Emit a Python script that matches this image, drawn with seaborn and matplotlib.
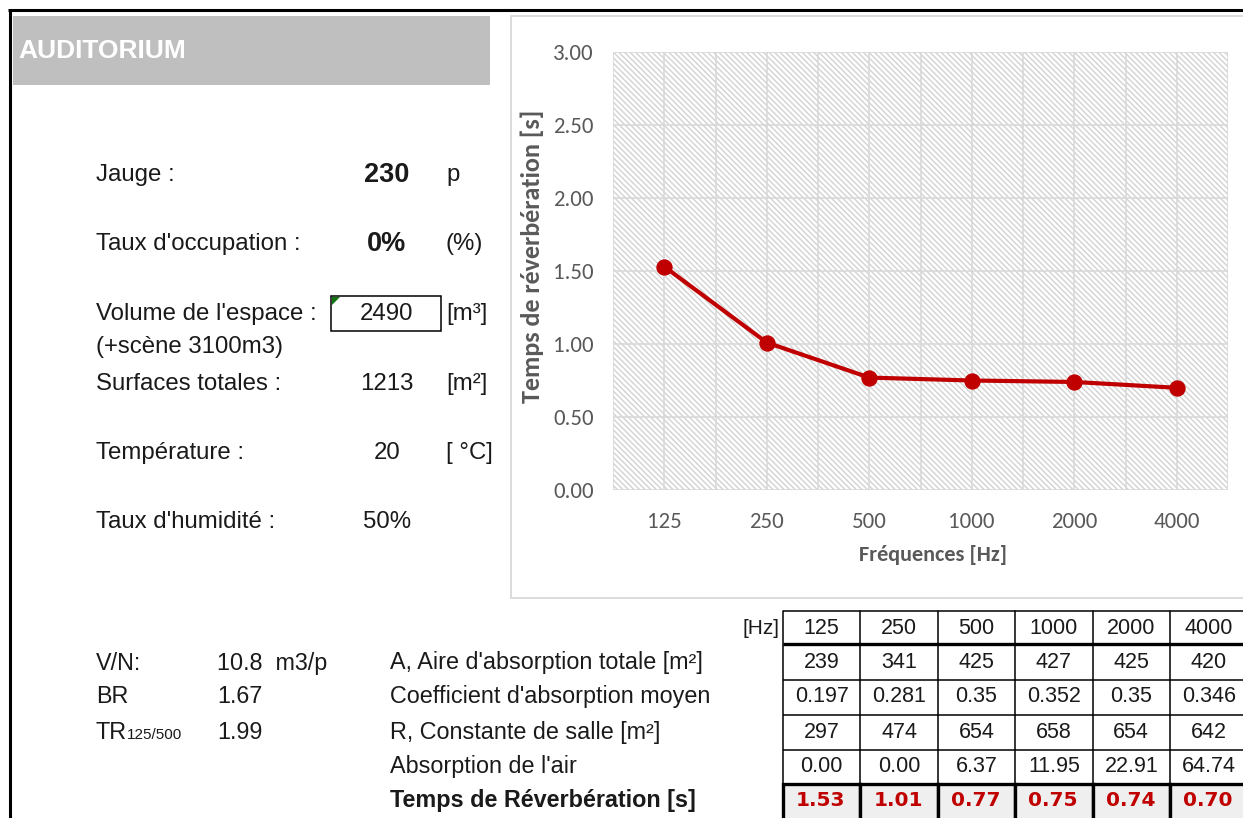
import numpy as np
import matplotlib
matplotlib.use("Agg")
import matplotlib.pyplot as plt
import seaborn as sns
from matplotlib.patches import Rectangle, Polygon
from matplotlib.ticker import MultipleLocator, FormatStrFormatter
from matplotlib import font_manager as fm

# ---------------- data ----------------
freq_labels = ["125", "250", "500", "1000", "2000", "4000"]
reverb_time = [1.53, 1.01, 0.77, 0.75, 0.74, 0.70]
absorption_area = [239, 341, 425, 427, 425, 420]
mean_absorption = [0.197, 0.281, 0.35, 0.352, 0.35, 0.346]
room_constant = [297, 474, 654, 658, 654, 642]
air_absorption = [0.00, 0.00, 6.37, 11.95, 22.91, 64.74]

param_labels = ["Jauge :", "Taux d'occupation :", "Volume de l'espace :",
                "Surfaces totales :", "Température :", "Taux d'humidité :"]
param_values = ["230", "0%", "2490", "1213", "20", "50%"]
param_units = ["p", "(%)", "[m³]", "[m²]", "[ °C]", ""]
param_bold = [True, True, False, False, False, False]
volume_note = "(+scène 3100m3)"

ratio_labels = ["V/N:", "BR", "TR"]
ratio_sub = ["", "", "125/500"]
ratio_values = ["10.8  m3/p", "1.67", "1.99"]

row_labels = ["A, Aire d'absorption totale [m²]", "Coefficient d'absorption moyen",
              "R, Constante de salle [m²]", "Absorption de l'air",
              "Temps de Réverbération [s]"]

# ---------------- fonts ----------------
def has_font(name):
    try:
        fm.findfont(fm.FontProperties(family=name), fallback_to_default=False)
        return True
    except ValueError:
        return False

SHEET = ["Liberation Sans", "DejaVu Sans"]
if has_font("Liberation Sans Narrow"):
    NARROW, NARROW_SIZE = ["Liberation Sans Narrow", "DejaVu Sans"], 19
else:
    NARROW, NARROW_SIZE = SHEET, 16.8
CHART = ["Carlito", "Lato", "DejaVu Sans"] if has_font("Carlito") else ["Lato", "DejaVu Sans"]

sns.set_theme(style="white")
plt.rcParams["font.family"] = CHART
plt.rcParams["hatch.linewidth"] = 1.0

W, H = 1243, 818
fig = plt.figure(figsize=(W / 100, H / 100), dpi=100)
fig.patch.set_facecolor("white")

# sheet layer in pixel coordinates
ov = fig.add_axes([0, 0, 1, 1], zorder=0)
ov.set_xlim(0, W)
ov.set_ylim(H, 0)
ov.axis("off")

TXT = "#1a1a1a"

# outer sheet border
ov.plot([8, W], [10, 10], color="black", lw=2.2, solid_capstyle="butt")
ov.plot([10, 10], [10, H], color="black", lw=2.2, solid_capstyle="butt")

# title banner
ov.add_patch(Rectangle((13, 16), 477, 69, fc="#bfbfbf", ec="none"))
ov.text(18, 51, "AUDITORIUM", color="white", fontsize=19, fontweight="bold",
        va="center", family=SHEET)

# chart frame
ov.add_patch(Rectangle((511, 16), 760, 582, fc="white", ec="#d9d9d9", lw=1.3))

# room parameters
param_y = [175, 244, 314, 384, 453, 522]
for lab, val, unit, bold, y in zip(param_labels, param_values, param_units, param_bold, param_y):
    ov.text(96, y, lab, fontsize=17.3, color=TXT, va="center", family=SHEET)
    ov.text(387, y, val, fontsize=19.5 if bold else 17.3, color=TXT, va="center", ha="center",
            fontweight="bold" if bold else "normal", family=SHEET)
    if unit:
        ov.text(446, y, unit, fontsize=17.3, color=TXT, va="center", family=SHEET)
ov.text(96, 347, volume_note, fontsize=17.3, color=TXT, va="center", family=SHEET)

# input cell around the volume
ov.add_patch(Rectangle((331, 296), 110, 35, fc="none", ec="black", lw=1.1, zorder=3))
ov.add_patch(Polygon([(332, 297), (340, 297), (332, 305)], closed=True,
                     fc="#127312", ec="none", zorder=4))

# ratios
ratio_y = [663, 696, 732]
for lab, sub, val, y in zip(ratio_labels, ratio_sub, ratio_values, ratio_y):
    ov.text(96, y + 7, lab, fontsize=NARROW_SIZE, color=TXT, va="baseline", family=NARROW)
    if sub:
        ov.text(127, y + 7, sub, fontsize=11, color=TXT, va="baseline", family=NARROW)
    ov.text(217, y + 7, val, fontsize=NARROW_SIZE, color=TXT, va="baseline", family=NARROW)

# row labels of the table
row_y = [663, 697, 733, 767, 801]
for i, (lab, y) in enumerate(zip(row_labels, row_y)):
    ov.text(390, y, lab, fontsize=NARROW_SIZE, color=TXT, va="center", family=NARROW,
            fontweight="bold" if i == 4 else "normal")

# ---------------- table ----------------
x0, cw = 783, 77.4
col_edges = [x0 + k * cw for k in range(len(freq_labels) + 1)]
row_edges = [611, 644, 680, 715, 750, 783.5, 820]
centers = [(a + b) / 2 for a, b in zip(col_edges[:-1], col_edges[1:])]

thin, thick = 1.1, 2.4
for xe in col_edges:
    ov.plot([xe, xe], [row_edges[0], row_edges[5]], color="black", lw=thin)
for k, ye in enumerate(row_edges[:5]):
    ov.plot([col_edges[0], col_edges[-1]], [ye, ye], color="black",
            lw=thick if k == 1 else thin, solid_capstyle="butt")

# result row: shaded, boxed cells
for a, b in zip(col_edges[:-1], col_edges[1:]):
    ov.add_patch(Rectangle((a, row_edges[5]), b - a, row_edges[6] - row_edges[5],
                           fc="#efefef", ec="black", lw=thick, zorder=3))

ov.text(780, 629, "[Hz]", fontsize=15, color=TXT, va="center", ha="right", family=SHEET)
table_rows = [
    freq_labels,
    [f"{v:d}" for v in absorption_area],
    [f"{v:g}" for v in mean_absorption],
    [f"{v:d}" for v in room_constant],
    [f"{v:.2f}" for v in air_absorption],
]
text_y = [628, 662, 697, 732, 767]
for cells, y in zip(table_rows, text_y):
    for cx, s in zip(centers, cells):
        ov.text(cx, y, s, fontsize=15.5, color=TXT, va="center", ha="center", family=SHEET)
for cx, v in zip(centers, reverb_time):
    ov.text(cx - 1, 801, f"{v:.2f}", fontsize=14.5, color="#c00000", va="center",
            ha="center", fontweight="bold", family=["DejaVu Sans"], zorder=5)

# ---------------- chart ----------------
ax = fig.add_axes([613 / W, 1 - 490 / H, 615 / W, 438 / H], zorder=1)
ax.set_facecolor("white")
ax.add_patch(Rectangle((0, 0), 1, 1, transform=ax.transAxes, fc="white",
                       ec="#d2d2d2", lw=0, hatch="\\" * 6, zorder=0.1))

sns.pointplot(x=freq_labels, y=reverb_time, color="#c00000", markers="o",
              markersize=9.5, linewidth=3, errorbar=None, ax=ax)

ax.set_xlim(-0.5, len(freq_labels) - 0.5)
ax.set_ylim(0, 3)
ax.set_yticks(np.arange(0, 3.01, 0.5))
ax.yaxis.set_major_formatter(FormatStrFormatter("%.2f"))
ax.xaxis.set_minor_locator(MultipleLocator(0.5))
ax.set_axisbelow(True)
ax.grid(True, axis="y", which="major", color="#d9d9d9", lw=1.2)
ax.grid(True, axis="x", which="both", color="#d9d9d9", lw=1.2)
for s in ax.spines.values():
    s.set_visible(False)
ax.tick_params(which="both", length=0)
ax.tick_params(axis="y", pad=14, labelsize=16.5, labelcolor="#595959")
ax.tick_params(axis="x", pad=16, labelsize=16.5, labelcolor="#595959")

ax.set_xlabel("Fréquences [Hz]", fontsize=16, fontweight="bold", color="#595959")
ax.set_ylabel("Temps de réverbération [s]", fontsize=18.8, fontweight="bold", color="#595959")
ax.xaxis.label.set_va("center")
ax.yaxis.label.set_va("center")
ax.xaxis.set_label_coords(0.52, -0.148)
ax.yaxis.set_label_coords(-0.132, 0.533)

fig.savefig("out.png", dpi=100, facecolor="white")
